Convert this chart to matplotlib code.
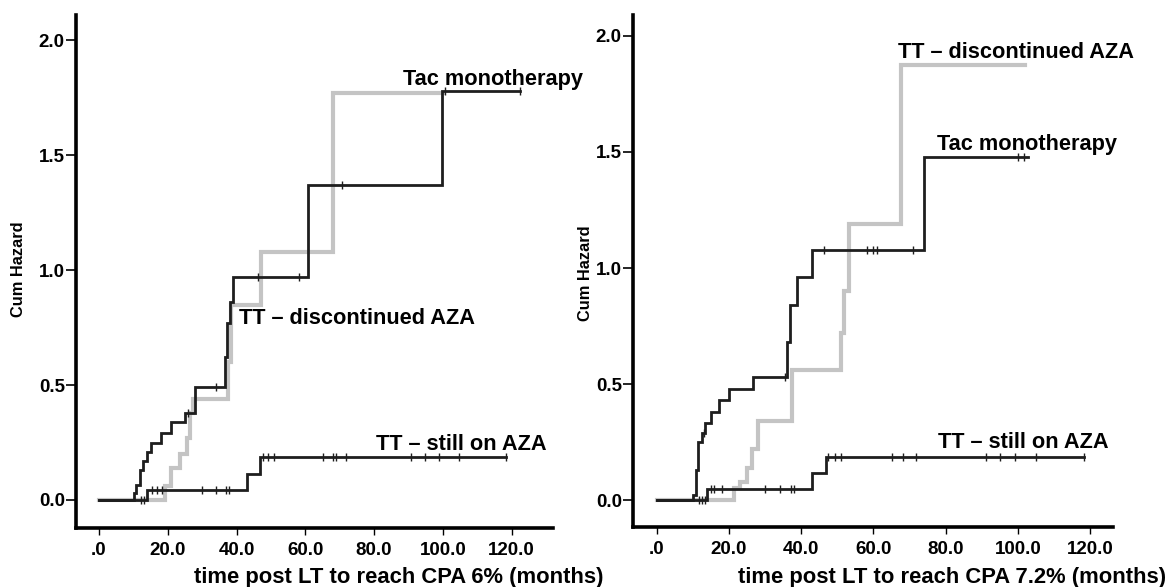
import numpy as np
import matplotlib
matplotlib.use("Agg")
import matplotlib.pyplot as plt

plt.rcParams['font.family'] = ['Liberation Sans', 'DejaVu Sans']

# CPA 6% panel
tac6_t = [0, 10.1, 10.8, 11.9, 12.8, 13.9, 15.0, 18.0, 21.0, 25.0, 27.9, 36.5, 37.2, 38.1, 39.0, 60.9, 99.7, 122.5]
tac6_h = [0, 0.03, 0.066, 0.13, 0.17, 0.21, 0.25, 0.29, 0.34, 0.38, 0.49, 0.62, 0.77, 0.86, 0.97, 1.37, 1.78, 1.78]
tac6_cens = [25.8, 34.1, 46.1, 58.1, 70.7, 100.5, 122.5]

disc6_t = [0, 19.3, 21.0, 23.5, 25.5, 26.5, 27.3, 37.5, 38.3, 47.0, 68.0, 100.0]
disc6_h = [0, 0.06, 0.14, 0.20, 0.27, 0.38, 0.44, 0.60, 0.85, 1.08, 1.77, 1.77]

still6_t = [0, 13.9, 43.1, 46.9, 118.3]
still6_h = [0, 0.045, 0.113, 0.185, 0.185]
still6_cens = [12.2, 13.0, 15.5, 16.9, 18.3, 30.0, 34.1, 36.8, 37.9, 47.8, 49.0, 51.0,
               65.0, 68.0, 68.9, 71.8, 90.7, 94.8, 98.9, 104.8, 118.3]

# CPA 7.2% panel
tac72_t = [0, 10.1, 10.9, 11.5, 12.6, 13.5, 14.9, 17.3, 20.1, 26.7, 36.1, 36.8, 38.9, 43.1, 74.0, 102.7]
tac72_h = [0, 0.024, 0.13, 0.25, 0.29, 0.33, 0.38, 0.43, 0.48, 0.53, 0.68, 0.84, 0.96, 1.076, 1.48, 1.48]
tac72_cens = [13.0, 35.5, 46.2, 58.3, 59.8, 60.9, 71.0, 100.0, 101.7]

disc72_t = [0, 21.5, 23.0, 25.0, 26.5, 28.0, 37.5, 51.0, 51.8, 53.2, 67.7, 102.0]
disc72_h = [0, 0.05, 0.08, 0.14, 0.22, 0.34, 0.56, 0.72, 0.90, 1.19, 1.875, 1.875]

still72_t = [0, 13.8, 43.1, 46.8, 118.4]
still72_h = [0, 0.046, 0.117, 0.185, 0.185]
still72_cens = [11.7, 12.5, 13.3, 14.9, 15.9, 18.0, 30.0, 34.2, 37.3, 37.9, 47.3, 49.4, 50.9,
                65.0, 68.2, 71.9, 91.2, 94.9, 99.1, 105.1, 118.4]

xticks = [0, 20, 40, 60, 80, 100, 120]
xtick_labels = ['.0', '20.0', '40.0', '60.0', '80.0', '100.0', '120.0']
yticks = [0.0, 0.5, 1.0, 1.5, 2.0]

DARK = '#1e1e1e'
GRAY = '#c4c4c4'
LABEL_SIZE = 15.7


def step_value(t, h, x):
    i = np.searchsorted(t, x, side='right') - 1
    return np.asarray(h)[i]


def draw_curve(ax, t, h, color, lw, cens=None, z=2):
    ax.step(t, h, where='post', color=color, lw=lw, zorder=z, solid_joinstyle='miter')
    if cens:
        ax.plot(cens, step_value(t, h, cens), linestyle='none', marker='|',
                color=color, ms=6, mew=1.0, zorder=z + 0.5)


def setup(ax, xlim, ylim):
    ax.set_xlim(*xlim)
    ax.set_ylim(*ylim)
    for s in ['top', 'right']:
        ax.spines[s].set_visible(False)
    for s in ['left', 'bottom']:
        ax.spines[s].set_linewidth(2.6)
    ax.set_xticks(xticks)
    ax.set_xticklabels(xtick_labels)
    ax.set_yticks(yticks)
    ax.set_yticklabels(['%.1f' % v for v in yticks])
    ax.tick_params(axis='x', length=5, width=1.0, pad=5, labelsize=13.5)
    ax.tick_params(axis='y', length=7, width=1.2, pad=1, labelsize=13.5)
    for lab in ax.get_xticklabels() + ax.get_yticklabels():
        lab.set_fontweight('bold')


fig = plt.figure(figsize=(11.72, 5.87), dpi=100)
ax1 = fig.add_axes([0.0648, 0.1005, 0.407, 0.874])
ax2 = fig.add_axes([0.540, 0.1022, 0.4096, 0.8722])

# left panel
draw_curve(ax1, tac6_t, tac6_h, DARK, 2.0, tac6_cens, z=3)
draw_curve(ax1, still6_t, still6_h, DARK, 2.0, still6_cens, z=3)
draw_curve(ax1, disc6_t, disc6_h, GRAY, 3.0, z=2)
setup(ax1, (-6.7, 132), (-0.122, 2.11))
ax1.text(88.4, 1.83, 'Tac monotherapy', fontsize=LABEL_SIZE, fontweight='bold', va='center', clip_on=False)
ax1.text(40.6, 0.79, 'TT \u2013 discontinued AZA', fontsize=LABEL_SIZE, fontweight='bold', va='center')
ax1.text(80.5, 0.24, 'TT \u2013 still on AZA', fontsize=LABEL_SIZE, fontweight='bold', va='center')

# right panel
draw_curve(ax2, tac72_t, tac72_h, DARK, 2.0, tac72_cens, z=3)
draw_curve(ax2, still72_t, still72_h, DARK, 2.0, still72_cens, z=3)
draw_curve(ax2, disc72_t, disc72_h, GRAY, 3.0, z=2)
setup(ax2, (-6.6, 126.3), (-0.116, 2.09))
ax2.text(66.8, 1.93, 'TT \u2013 discontinued AZA', fontsize=LABEL_SIZE, fontweight='bold', va='center', clip_on=False)
ax2.text(77.6, 1.53, 'Tac monotherapy', fontsize=LABEL_SIZE, fontweight='bold', va='center')
ax2.text(77.8, 0.25, 'TT \u2013 still on AZA', fontsize=LABEL_SIZE, fontweight='bold', va='center')

fig.text(0.016, 0.542, 'Cum Hazard', rotation=90, fontsize=11.8, fontweight='bold', ha='center', va='center')
fig.text(0.500, 0.535, 'Cum Hazard', rotation=90, fontsize=11.8, fontweight='bold', ha='center', va='center')
fig.text(0.340, 0.016, 'time post LT to reach CPA 6% (months)', fontsize=15.8, fontweight='bold', ha='center', va='center')
fig.text(0.812, 0.016, 'time post LT to reach CPA 7.2% (months)', fontsize=15.8, fontweight='bold', ha='center', va='center')

fig.savefig('out.png', dpi=100)
